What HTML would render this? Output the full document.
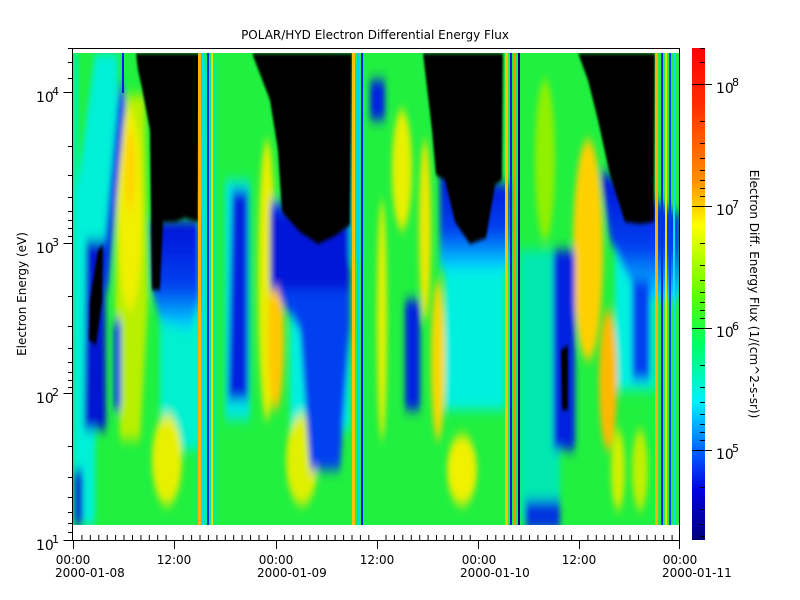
<!DOCTYPE html>
<html><head><style>body{margin:0;background:#fff;}svg{display:block;font-family:"DejaVu Sans","Liberation Sans",sans-serif;}</style></head>
<body>
<svg width="800" height="600" xmlns="http://www.w3.org/2000/svg">
<defs>
<linearGradient id="cb" x1="0" y1="0" x2="0" y2="1">
<stop offset="0" stop-color="#ff0000"/><stop offset="0.12" stop-color="#ff3000"/><stop offset="0.27" stop-color="#ff9000"/><stop offset="0.36" stop-color="#ffff00"/><stop offset="0.5" stop-color="#60ff00"/><stop offset="0.6" stop-color="#00ff60"/><stop offset="0.72" stop-color="#00f0ff"/><stop offset="0.82" stop-color="#0060ff"/><stop offset="0.9" stop-color="#0000e0"/><stop offset="1" stop-color="#00007a"/>
</linearGradient>
<linearGradient id="bd" x1="0" y1="0" x2="0" y2="1"><stop offset="0" stop-color="#0010d8"/><stop offset="0.6" stop-color="#0040f0"/><stop offset="1" stop-color="#00e0ff"/></linearGradient>
<filter id="bl" x="-20%" y="-20%" width="140%" height="140%"><feGaussianBlur stdDeviation="3 6"/></filter>
<filter id="bs" x="-20%" y="-20%" width="140%" height="140%"><feGaussianBlur stdDeviation="1 2"/></filter>
<clipPath id="cp"><rect x="73" y="53" width="607" height="472"/></clipPath>
</defs>
<text x="375" y="39" font-size="12" text-anchor="middle" fill="#000">POLAR/HYD  Electron Differential Energy Flux</text>
<g clip-path="url(#cp)">
<rect x="73" y="53" width="607" height="472" fill="#20f040"/>
<g filter="url(#bl)">
<!-- cyan areas -->
<polygon points="95,53 118,53 118,110 104,290 95,450 95,525 73,525 73,220" fill="#00f0d8"/>
<rect x="73" y="53" width="4" height="472" fill="#00e8e0"/>
<rect x="160" y="250" width="45" height="200" fill="#00f0d0"/>
<rect x="200" y="60" width="15" height="465" fill="#00e8c0"/>
<rect x="290" y="250" width="60" height="180" fill="#00f0e0"/>
<rect x="445" y="260" width="60" height="150" fill="#00f0e0"/>
<rect x="615" y="230" width="40" height="160" fill="#00f0e0"/>
<rect x="330" y="60" width="30" height="200" fill="#00e0c0"/>
<rect x="520" y="250" width="40" height="270" fill="#00e8b0"/>
<rect x="225" y="180" width="25" height="240" fill="#00e8e0"/>
<!-- yellow -->
<polygon points="118,95 145,95 148,300 140,440 120,440 115,300" fill="#b8f000"/>
<ellipse cx="130" cy="210" rx="12" ry="100" fill="#f0f000"/>
<ellipse cx="130" cy="170" rx="6" ry="40" fill="#ffd800"/>
<ellipse cx="267" cy="280" rx="9" ry="140" fill="#e8ee00"/>
<ellipse cx="276" cy="340" rx="8" ry="70" fill="#ffc800"/>
<ellipse cx="167" cy="460" rx="15" ry="45" fill="#e8f000"/>
<ellipse cx="302" cy="460" rx="16" ry="45" fill="#e0f000"/>
<ellipse cx="382" cy="320" rx="5" ry="120" fill="#e8f000"/>
<ellipse cx="402" cy="170" rx="10" ry="60" fill="#e8f000"/>
<ellipse cx="425" cy="230" rx="6" ry="90" fill="#f0e800"/>
<ellipse cx="438" cy="360" rx="7" ry="80" fill="#f8d800"/>
<ellipse cx="462" cy="470" rx="15" ry="35" fill="#f0f000"/>
<ellipse cx="545" cy="160" rx="10" ry="80" fill="#90f000"/>
<ellipse cx="588" cy="250" rx="15" ry="110" fill="#ffd000"/>
<ellipse cx="608" cy="380" rx="9" ry="70" fill="#ffb800"/>
<ellipse cx="618" cy="470" rx="7" ry="40" fill="#d0f000"/>
<ellipse cx="640" cy="470" rx="8" ry="40" fill="#c0f000"/>
<!-- blues -->
<polygon points="150,220 200,220 200,300 190,330 160,320 152,290" fill="url(#bd)"/>
<polygon points="270,200 350,220 350,330 340,470 310,470 300,330 280,300" fill="#0040f0"/>
<polygon points="270,210 350,225 350,290 270,290" fill="#0018d8"/>
<polygon points="440,170 510,185 508,270 440,270" fill="url(#bd)"/>
<polygon points="600,170 680,215 680,300 640,300 610,240" fill="url(#bd)"/>
<polygon points="86,240 105,240 106,430 84,430" fill="#0018d0"/>
<rect x="74" y="470" width="9" height="55" fill="#0010d0"/>
<rect x="114" y="320" width="7" height="90" fill="#0030f0"/>
<polygon points="232,190 248,190 248,400 228,400" fill="#0020e0"/>
<rect x="405" y="300" width="15" height="110" fill="#0020e0"/>
<rect x="370" y="80" width="15" height="40" fill="#0020e0"/>
<rect x="553" y="250" width="22" height="200" fill="#0020e0"/>
<rect x="525" y="500" width="35" height="30" fill="#0030e0"/>
<polygon points="120,80 100,290 108,290 126,100" fill="#0030e8"/>
<rect x="632" y="280" width="18" height="100" fill="#0040f0"/>
</g>
<!-- black regions -->
<g filter="url(#bs)">
<polygon points="136,53 200,53 198,222 185,218 175,222 163,222 160,290 152,290 150,130 142,88 138,70" fill="#000"/>
<polygon points="252,53 352,53 350,225 335,236 318,244 300,232 282,212 278,150 270,100" fill="#000"/>
<polygon points="423,53 503,53 502,180 495,185 486,238 470,244 455,222 445,180 436,175 432,130" fill="#000"/>
<polygon points="578,53 655,53 654,222 640,224 625,222 610,175 598,120 588,80" fill="#000"/>
<polygon points="98,250 103,245 102,300 96,345 89,340 90,300" fill="#000"/>
<polygon points="561,350 568,345 568,410 562,410" fill="#000"/>
</g>
<!-- thin streaks -->
<rect x="122" y="53" width="2" height="40" fill="#0020e0"/>
<rect x="198" y="53" width="3" height="472" fill="#ffb000"/>
<rect x="202" y="53" width="2" height="472" fill="#00e0ff"/>
<rect x="207" y="53" width="2" height="472" fill="#0030e0"/>
<rect x="211" y="53" width="2" height="472" fill="#f0e000"/>
<rect x="352" y="53" width="3" height="472" fill="#ffc000"/>
<rect x="357" y="53" width="2" height="472" fill="#00d0ff"/>
<rect x="361" y="53" width="2" height="472" fill="#0020e0"/>
<rect x="505" y="53" width="3" height="472" fill="#ffc000"/>
<rect x="510" y="53" width="2" height="472" fill="#0020e0"/>
<rect x="514" y="53" width="2" height="472" fill="#ff9000"/>
<rect x="518" y="53" width="2" height="472" fill="#000080"/>
<rect x="655" y="53" width="3" height="472" fill="#ffb000"/>
<rect x="661" y="53" width="2" height="472" fill="#0030e0"/>
<rect x="665" y="53" width="2" height="472" fill="#f0e000"/>
<rect x="669" y="53" width="2" height="472" fill="#0040f0"/>
<rect x="673" y="53" width="2" height="472" fill="#00e0ff"/>
</g>
<!-- frame -->
<g stroke="#000" fill="none" stroke-width="1">
<rect x="72.5" y="48.5" width="607" height="492"/>
<path d="M72.5,92.5h-9M72.5,243.5h-9M72.5,393.5h-9M72.5,540.5h-9"/>
<path d="M73,48.5h-5M73,62.5h-5M73,78.5h-5
M73,146.5h-5M73,175.5h-5M73,197.5h-5M73,211.5h-5M73,220.5h-5M73,228.5h-5M73,236.5h-5
M73,296.5h-5M73,326.5h-5M73,348.5h-5M73,362.5h-5M73,372.5h-5M73,380.5h-5M73,387.5h-5
M73,446.5h-5M73,477.5h-5M73,497.5h-5M73,512.5h-5M73,523.5h-5M73,532.5h-5"/>
<path d="M73.5,540v9M174.5,540v9M276.5,540v9M377.5,540v9M478.5,540v9M579.5,540v9M679.5,540v9"/>
</g>
<path stroke="#000" d="M81.9,540v-5M90.3,540v-5M98.8,540v-5M107.2,540v-5M115.6,540v-5M124,540v-5M132.5,540v-5M140.9,540v-5M149.3,540v-5M157.7,540v-5M166.1,540v-5
M183.2,540v-5M191.6,540v-5M200,540v-5M208.4,540v-5M216.9,540v-5M225.3,540v-5M233.7,540v-5M242.1,540v-5M250.6,540v-5M259,540v-5M267.4,540v-5
M284.6,540v-5M293,540v-5M301.4,540v-5M309.9,540v-5M318.3,540v-5M326.7,540v-5M335.1,540v-5M343.6,540v-5M352,540v-5M360.4,540v-5M368.8,540v-5
M386,540v-5M394.4,540v-5M402.8,540v-5M411.3,540v-5M419.7,540v-5M428.1,540v-5M436.5,540v-5M445,540v-5M453.4,540v-5M461.8,540v-5M470.2,540v-5
M487.4,540v-5M495.8,540v-5M504.2,540v-5M512.7,540v-5M521.1,540v-5M529.5,540v-5M537.9,540v-5M546.4,540v-5M554.8,540v-5M563.2,540v-5M571.6,540v-5
M587.9,540v-5M596.3,540v-5M604.8,540v-5M613.2,540v-5M621.6,540v-5M630,540v-5M638.5,540v-5M646.9,540v-5M655.3,540v-5M663.7,540v-5M672.1,540v-5"/>
<g font-size="12" fill="#000">
<text x="36" y="102" font-size="14">10</text><text x="52" y="95" font-size="11">4</text>
<text x="36" y="253" font-size="14">10</text><text x="52" y="246" font-size="11">3</text>
<text x="36" y="403" font-size="14">10</text><text x="52" y="396" font-size="11">2</text>
<text x="36" y="550" font-size="14">10</text><text x="52" y="543" font-size="11">1</text>
<text x="73" y="564" text-anchor="middle">00:00</text><text x="55" y="577">2000-01-08</text>
<text x="174" y="564" text-anchor="middle">12:00</text>
<text x="276" y="564" text-anchor="middle">00:00</text><text x="257" y="577">2000-01-09</text>
<text x="377" y="564" text-anchor="middle">12:00</text>
<text x="479" y="564" text-anchor="middle">00:00</text><text x="460" y="577">2000-01-10</text>
<text x="579" y="564" text-anchor="middle">12:00</text>
<text x="680" y="564" text-anchor="middle">00:00</text><text x="662" y="577">2000-01-11</text>
<text transform="translate(26,294) rotate(-90)" text-anchor="middle">Electron Energy (eV)</text>
<text transform="translate(750,294) rotate(90)" text-anchor="middle">Electron Diff. Energy Flux (1/(cm^2-s-sr))</text>
<text x="716" y="93" font-size="14">10</text><text x="732" y="86" font-size="11">8</text>
<text x="716" y="215" font-size="14">10</text><text x="732" y="208" font-size="11">7</text>
<text x="716" y="337" font-size="14">10</text><text x="732" y="330" font-size="11">6</text>
<text x="716" y="459" font-size="14">10</text><text x="732" y="452" font-size="11">5</text>
</g>
<rect x="692" y="48" width="13" height="492" fill="url(#cb)"/>
<path stroke="#000" d="M692,84.5h20M692,206.5h20M692,328.5h20M692,450.5h20
M700,48.5h5M700,62.5h5M700,121.5h5M700,143.5h5M700,158.5h5M700,170.5h5M700,180.5h5M700,188.5h5M700,196.5h5M700,243.5h5M700,265.5h5M700,280.5h5M700,292.5h5M700,302.5h5M700,310.5h5M700,318.5h5M700,365.5h5M700,387.5h5M700,402.5h5M700,414.5h5M700,424.5h5M700,432.5h5M700,440.5h5M700,487.5h5M700,509.5h5M700,524.5h5M700,536.5h5"/>
</svg>
</body></html>
